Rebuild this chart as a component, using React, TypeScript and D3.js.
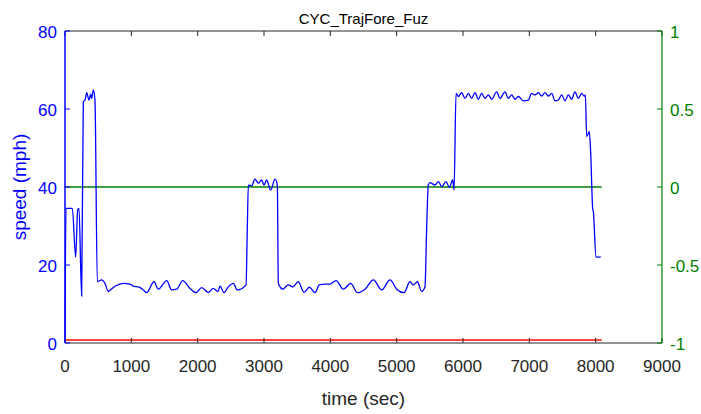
import React, { useRef, useEffect } from 'react';
import * as d3 from 'd3';

// speed trace
const timeSec = [
  0, 15, 110, 161, 191, 211, 251, 276, 302, 327, 362, 387, 402, 427, 452, 487,
  553, 603, 653, 668, 760, 880, 980, 1040, 1105, 1170, 1230, 1342, 1407, 1533,
  1608, 1684, 1774, 1885, 1975, 2060, 2161, 2236, 2307, 2337, 2397, 2462, 2538,
  2598, 2729, 2749, 2764, 2814, 2864, 2915, 2965, 3000, 3040, 3101, 3166, 3201,
  3216, 3282, 3367, 3432, 3517, 3603, 3683, 3769, 3834, 3920, 3995, 4086, 4196,
  4307, 4408, 4523, 4649, 4775, 4900, 5000, 5111, 5201, 5251, 5312, 5377, 5427,
  5453, 5477, 5503, 5578, 5628, 5679, 5744, 5794, 5845, 5865, 5895, 5930, 5980,
  6030, 6081, 6131, 6181, 6231, 6282, 6332, 6382, 6432, 6508, 6558, 6633, 6683,
  6734, 6784, 6834, 6910, 6985, 7035, 7086, 7136, 7186, 7236, 7286, 7337, 7387,
  7437, 7487, 7538, 7588, 7638, 7688, 7739, 7789, 7828, 7845, 7865, 7904, 7925,
  7955, 7965, 8005, 8040, 8076,
];
const speedMph = [
  0, 34.5, 34.5, 22, 34.1, 34.5, 12, 61.9, 62.3, 64.2, 62.3, 63.8, 62.7, 64.9,
  62.3, 15.7, 16.2, 15.3, 13.2, 13.4, 14.6, 15.3, 15.1, 14.5, 14.4, 13.8, 12.9,
  15.7, 13.8, 16, 13.6, 13.8, 16, 14, 12.9, 14.2, 13, 14, 13.2, 14.6, 12.9, 14.4,
  15.3, 13.6, 14.9, 30, 40.5, 40.3, 42, 41, 41.8, 40.5, 41.8, 39.2, 42, 40.5,
  15.3, 13.8, 14.9, 14.4, 15.7, 13, 14.3, 12.9, 14.9, 15.1, 15.1, 16, 13.8, 15.3,
  12.9, 13.8, 16.2, 13.6, 16.2, 13.8, 12.9, 15.7, 14.9, 15.7, 13.2, 14.4, 30,
  40.5, 41.1, 40.5, 41.4, 40.1, 41.4, 39.9, 41.8, 39.2, 64, 63.2, 64.2, 62.7, 64,
  62.7, 64.2, 62.5, 64, 62.7, 63.6, 62.5, 64.4, 62.7, 64.4, 62.7, 63.6, 62.5,
  63.2, 62.1, 62.3, 64, 63.6, 64.2, 63.3, 64.2, 63.3, 64, 62.1, 62.3, 63.6, 62.1,
  63.6, 62.5, 64.4, 62.7, 64, 63.3, 63.6, 52.9, 54.2, 48.7, 34.5, 33.7, 22.1, 22,
  22.1,
];

// the two flat lines on the right axis
const flatTime = [0, 8090];
const greenValues = [0, 0];
const redValues = [-0.98, -0.98];

const xTicks = [0, 1000, 2000, 3000, 4000, 5000, 6000, 7000, 8000, 9000];
const leftTicks = [0, 20, 40, 60, 80];
const rightTicks = [-1, -0.5, 0, 0.5, 1];
const rightTickLabels = ['-1', '-0.5', '0', '0.5', '1'];

const W = 701;
const H = 414;
const BLUE = '#0000ff';
const GREEN = '#008000';
const DARK = '#262626';
const FONT = 'Liberation Sans, Arial, sans-serif';

const App = () => {
  const svgRef = useRef(null);

  useEffect(() => {
    if (!svgRef.current) return;
    const svg = d3.select(svgRef.current);
    svg.selectAll('*').remove();

    const margin = { top: 31, right: 39, bottom: 71, left: 65 };
    const iw = W - margin.left - margin.right;
    const ih = H - margin.top - margin.bottom;

    const x = d3.scaleLinear().domain([0, 9000]).range([0, iw]);
    const yL = d3.scaleLinear().domain([0, 80]).range([ih, 0]);
    const yR = d3.scaleLinear().domain([-1, 1]).range([ih, 0]);

    const g = svg.append('g').attr('transform', `translate(${margin.left},${margin.top})`);

    const tickLen = 5;

    // lines
    const speedLine = d3
      .line<number>()
      .x((d, i) => x(timeSec[i]))
      .y((d) => yL(d))
      .curve(d3.curveMonotoneX);

    const flatLine = d3
      .line<number>()
      .x((d, i) => x(flatTime[i]))
      .y((d) => yR(d));

    g.append('path')
      .datum(redValues)
      .attr('d', flatLine)
      .attr('fill', 'none')
      .attr('stroke', '#ff0000')
      .attr('stroke-width', 1.5);

    g.append('path')
      .datum(greenValues)
      .attr('d', flatLine)
      .attr('fill', 'none')
      .attr('stroke', GREEN)
      .attr('stroke-width', 1.3);

    g.append('path')
      .datum(speedMph)
      .attr('d', speedLine)
      .attr('fill', 'none')
      .attr('stroke', BLUE)
      .attr('stroke-width', 1.3)
      .attr('stroke-linejoin', 'round');

    // box: top and bottom
    g.append('line').attr('x1', 0).attr('x2', iw).attr('y1', 0).attr('y2', 0)
      .attr('stroke', DARK).attr('stroke-width', 1);
    g.append('line').attr('x1', 0).attr('x2', iw).attr('y1', ih).attr('y2', ih)
      .attr('stroke', DARK).attr('stroke-width', 1);

    // x ticks (inward, top and bottom)
    xTicks.forEach((t) => {
      g.append('line').attr('x1', x(t)).attr('x2', x(t)).attr('y1', ih).attr('y2', ih - tickLen)
        .attr('stroke', DARK);
      g.append('line').attr('x1', x(t)).attr('x2', x(t)).attr('y1', 0).attr('y2', tickLen)
        .attr('stroke', DARK);
      g.append('text')
        .attr('x', x(t))
        .attr('y', ih + 29)
        .attr('text-anchor', 'middle')
        .attr('fill', DARK)
        .style('font-size', '17px')
        .style('font-family', FONT)
        .text(String(t));
    });

    // left axis
    g.append('line').attr('x1', 0).attr('x2', 0).attr('y1', 0).attr('y2', ih)
      .attr('stroke', BLUE).attr('stroke-width', 1.5);
    leftTicks.forEach((v) => {
      g.append('line').attr('x1', 0).attr('x2', tickLen).attr('y1', yL(v)).attr('y2', yL(v))
        .attr('stroke', BLUE);
      g.append('text')
        .attr('x', -8)
        .attr('y', yL(v) + 7)
        .attr('text-anchor', 'end')
        .attr('fill', BLUE)
        .style('font-size', '17px')
        .style('font-family', FONT)
        .text(String(v));
    });

    // right axis
    g.append('line').attr('x1', iw).attr('x2', iw).attr('y1', 0).attr('y2', ih)
      .attr('stroke', GREEN).attr('stroke-width', 1.2);
    rightTicks.forEach((v, i) => {
      g.append('line').attr('x1', iw).attr('x2', iw - tickLen).attr('y1', yR(v)).attr('y2', yR(v))
        .attr('stroke', GREEN);
      g.append('text')
        .attr('x', iw + 8)
        .attr('y', yR(v) + 7)
        .attr('text-anchor', 'start')
        .attr('fill', GREEN)
        .style('font-size', '17px')
        .style('font-family', FONT)
        .text(rightTickLabels[i]);
    });

    // labels
    svg.append('text')
      .attr('x', margin.left + iw / 2)
      .attr('y', 24)
      .attr('text-anchor', 'middle')
      .attr('fill', '#000')
      .style('font-size', '15px')
      .style('font-family', FONT)
      .text('CYC_TrajFore_Fuz');

    svg.append('text')
      .attr('x', margin.left + iw / 2)
      .attr('y', H - 9)
      .attr('text-anchor', 'middle')
      .attr('fill', DARK)
      .style('font-size', '19px')
      .style('font-family', FONT)
      .text('time (sec)');

    svg.append('text')
      .attr('transform', `translate(26,${margin.top + ih / 2}) rotate(-90)`)
      .attr('text-anchor', 'middle')
      .attr('fill', BLUE)
      .style('font-size', '19px')
      .style('font-family', FONT)
      .text('speed (mph)');

    return () => {
      svg.selectAll('*').remove();
    };
  }, []);

  return (
    <svg
      ref={svgRef}
      width={W}
      height={H}
      style={{ position: 'absolute', left: 0, top: 0, background: '#fff', display: 'block' }}
    />
  );
};

export default App;
